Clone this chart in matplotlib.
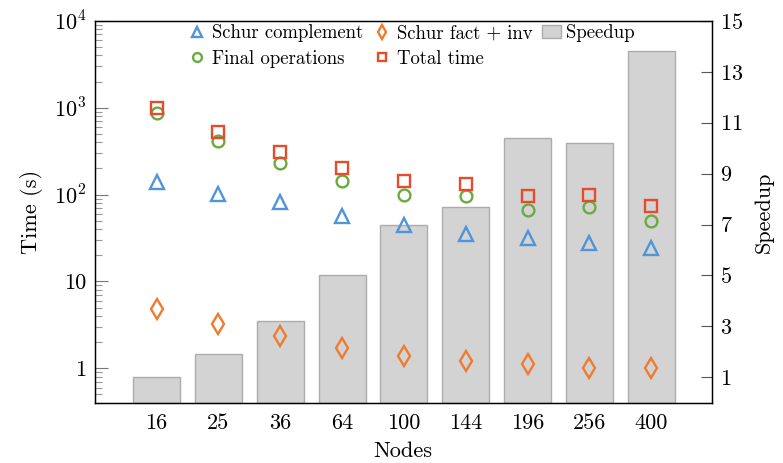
import numpy as np
import matplotlib
matplotlib.use("Agg")
import matplotlib.pyplot as plt
from matplotlib.ticker import LogLocator, NullFormatter, FixedLocator

plt.rcParams['font.family'] = 'cmr10'
plt.rcParams['mathtext.fontset'] = 'cm'
plt.rcParams['axes.formatter.use_mathtext'] = True

# datos
nodos = ["16", "25", "36", "64", "100", "144", "196", "256", "400"]
schur_complement = [138, 102, 81, 57, 45, 35.5, 32, 28, 24]
schur_fact_inv = [4.85, 3.2, 2.35, 1.72, 1.38, 1.2, 1.13, 1.02, 1.02]
final_operations = [863, 414, 231, 144, 100, 96, 66, 71, 50]
total_time = [1000, 520, 311, 202, 144, 133, 97, 99, 73]
speedup = [1.0, 1.9, 3.2, 5.0, 7.0, 7.7, 10.4, 10.2, 13.8]

azul = "#4f95d8"
naranja = "#ee7b30"
verde = "#6aab40"
rojo = "#e84a2c"

fig, ax = plt.subplots(figsize=(7.83, 4.63), dpi=100)
fig.subplots_adjust(left=0.121, right=0.909, top=0.955, bottom=0.13)
ax2 = ax.twinx()

x = np.arange(len(nodos))

# barras de speedup en el eje derecho
barras = ax2.bar(x, speedup, width=0.76, color="#d3d3d3", edgecolor="#acacac",
                 linewidth=1.0, label="Speedup")
ax2.set_ylim(0, 15)
ax2.yaxis.set_major_locator(FixedLocator([1, 3, 5, 7, 9, 11, 13, 15]))
ax2.tick_params(axis='y', direction='in', length=8, width=0.8, color="#555555",
                labelsize=16, pad=6)
ax2.set_ylabel("Speedup", fontsize=16, labelpad=8)

# tiempos en el eje izquierdo (log)
ax.set_zorder(ax2.get_zorder() + 1)
ax.patch.set_visible(False)
ms = dict(linestyle='none', markerfacecolor='none', markeredgewidth=1.7)
h1, = ax.plot(x, schur_complement, marker='^', markersize=10, color=azul,
              label="Schur complement", **ms)
h2, = ax.plot(x, schur_fact_inv, marker='d', markersize=10, color=naranja,
              label="Schur fact + inv", **ms)
h3, = ax.plot(x, final_operations, marker='o', markersize=8.5, color=verde,
              label="Final operations", **ms)
h4, = ax.plot(x, total_time, marker='s', markersize=8.5, color=rojo,
              label="Total time", **ms)

ax.set_yscale('log')
ax.set_ylim(0.4, 1e4)
ax.set_xlim(-1, 8.98)
ax.set_yticks([1, 10, 100, 1000, 10000])
ax.set_yticklabels(["1", "10", r"$10^2$", r"$10^3$", r"$10^4$"])
ax.yaxis.set_minor_locator(LogLocator(base=10, subs=np.arange(2, 10)))
ax.yaxis.set_minor_formatter(NullFormatter())
ax.tick_params(axis='y', which='major', direction='in', length=9, width=0.8,
               color="#777777", labelsize=16, pad=6)
ax.tick_params(axis='y', which='minor', direction='in', length=5, width=0.8,
               color="#999999")
ax.set_xticks(x)
ax.set_xticklabels(nodos)
ax.tick_params(axis='x', length=0, labelsize=16, pad=8)
ax.set_xlabel("Nodes", fontsize=16, labelpad=6)
ax.set_ylabel("Time (s)", fontsize=16, labelpad=8)

for s in ax.spines.values():
    s.set_linewidth(1.0)

ax.legend(handles=[h1, h3, h2, h4, barras], ncol=3, loc='upper center',
          bbox_to_anchor=(0.513, 1.018), frameon=False, fontsize=13.5,
          markerscale=0.75, handlelength=1.0, handletextpad=0.3,
          columnspacing=0.5, labelspacing=0.4, borderaxespad=0.15)

fig.savefig("out.png", dpi=100)
